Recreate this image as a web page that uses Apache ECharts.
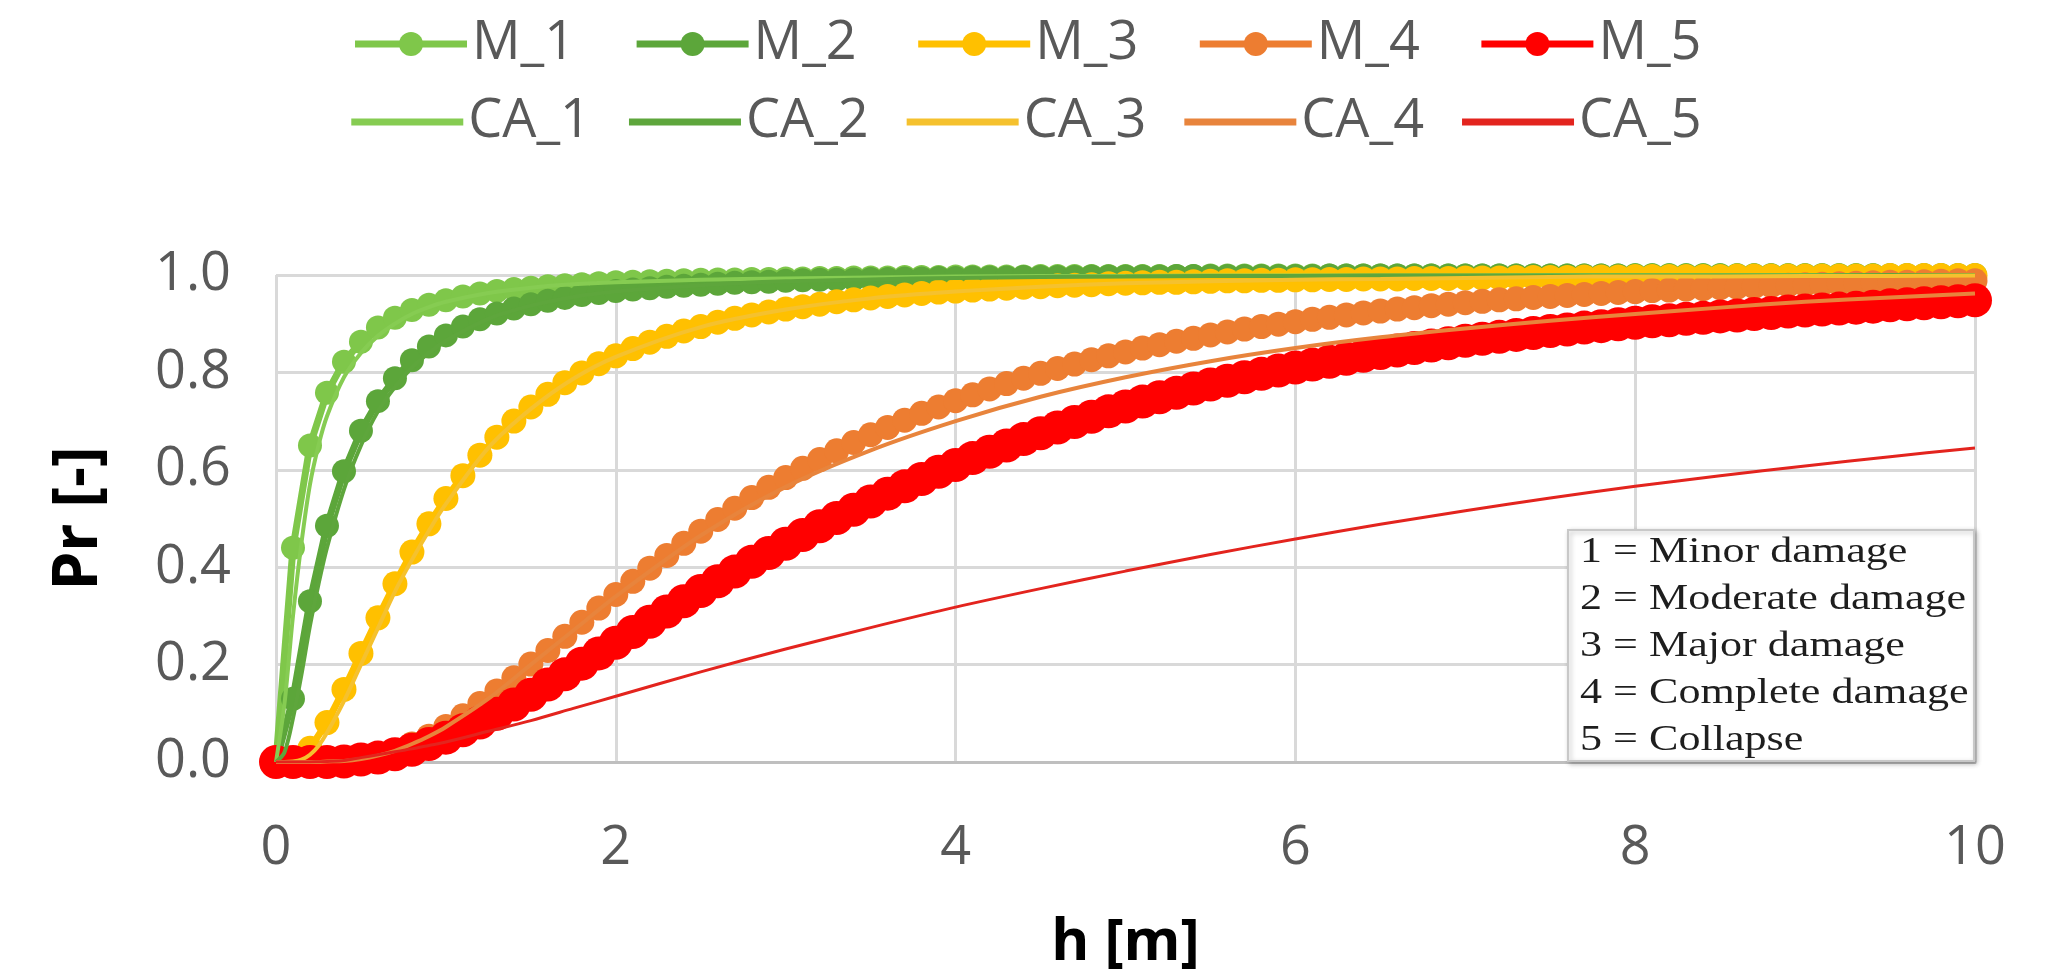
<!DOCTYPE html>
<html>
<head>
<meta charset="utf-8">
<title>Fragility curves M / CA</title>
<script src="https://cdn.jsdelivr.net/npm/echarts@6/dist/echarts.min.js"></script>
<style>
  html, body { margin: 0; padding: 0; background: #fff; }
  #main { width: 2053px; height: 980px; }
</style>
</head>
<body>
<div id="main"></div>
<script>
// M_* curves: one marker every 0.1 m, from 0 to 10 m
var hStep = 0.1;

var m1 = [0, 0.44, 0.65, 0.758, 0.822, 0.863, 0.892, 0.912, 0.928, 0.939,
  0.948, 0.956, 0.962, 0.967, 0.971, 0.974, 0.977, 0.979, 0.981, 0.983,
  0.985, 0.986, 0.987, 0.988, 0.989, 0.990, 0.991, 0.991, 0.992, 0.992,
  0.993, 0.993, 0.994, 0.994, 0.995, 0.995, 0.995, 0.996, 0.996, 0.996,
  0.997, 0.997, 0.997, 0.997, 0.997, 0.998, 0.998, 0.998, 0.998, 0.998,
  0.998, 0.998, 0.998, 0.998, 0.998, 0.999, 0.999, 0.999, 0.999, 0.999,
  0.999, 0.999, 0.999, 0.999, 0.999, 0.999, 0.999, 0.999, 0.999, 0.999,
  0.999, 0.999, 0.999, 0.999, 0.999, 0.999, 0.999, 0.999, 0.999, 0.999,
  1, 1, 1, 1, 1, 1, 1, 1, 1, 1,
  1, 1, 1, 1, 1, 1, 1, 1, 1, 1,
  1];
var m2 = [0, 0.130, 0.330, 0.485, 0.597, 0.680, 0.741, 0.788, 0.825, 0.853,
  0.876, 0.894, 0.909, 0.921, 0.931, 0.940, 0.947, 0.953, 0.959, 0.963,
  0.967, 0.970, 0.973, 0.976, 0.978, 0.980, 0.982, 0.984, 0.985, 0.986,
  0.988, 0.989, 0.990, 0.990, 0.991, 0.992, 0.992, 0.993, 0.993, 0.994,
  0.994, 0.995, 0.995, 0.995, 0.996, 0.996, 0.996, 0.996, 0.997, 0.997,
  0.997, 0.997, 0.997, 0.998, 0.998, 0.998, 0.998, 0.998, 0.998, 0.998,
  0.998, 0.998, 0.999, 0.999, 0.999, 0.999, 0.999, 0.999, 0.999, 0.999,
  0.999, 0.999, 0.999, 0.999, 0.999, 0.999, 0.999, 0.999, 0.999, 0.999,
  0.999, 0.999, 0.999, 0.999, 0.999, 0.999, 0.999, 0.999, 0.999, 0.999,
  0.999, 0.999, 0.999, 0.999, 0.999, 0.999, 0.999, 0.999, 0.999, 0.999,
  0.999];
var m3 = [0, 0.003, 0.028, 0.081, 0.149, 0.223, 0.296, 0.366, 0.431, 0.489,
  0.541, 0.588, 0.630, 0.667, 0.700, 0.729, 0.755, 0.779, 0.799, 0.818,
  0.834, 0.849, 0.862, 0.874, 0.885, 0.894, 0.903, 0.911, 0.918, 0.924,
  0.930, 0.935, 0.940, 0.945, 0.949, 0.953, 0.956, 0.959, 0.962, 0.965,
  0.967, 0.969, 0.971, 0.973, 0.975, 0.976, 0.978, 0.979, 0.980, 0.982,
  0.983, 0.984, 0.985, 0.985, 0.986, 0.987, 0.988, 0.988, 0.989, 0.989,
  0.990, 0.990, 0.991, 0.991, 0.992, 0.992, 0.992, 0.993, 0.993, 0.993,
  0.994, 0.994, 0.994, 0.995, 0.995, 0.995, 0.995, 0.996, 0.996, 0.996,
  0.997, 0.997, 0.997, 0.997, 0.997, 0.997, 0.998, 0.998, 0.998, 0.998,
  0.998, 0.998, 0.998, 0.998, 0.998, 0.999, 0.999, 0.999, 0.999, 0.999,
  0.999];
var m4 = [0, 0, 0, 0, 0.001, 0.006, 0.013, 0.023, 0.037, 0.053,
  0.073, 0.095, 0.120, 0.146, 0.173, 0.201, 0.229, 0.258, 0.287, 0.316,
  0.344, 0.371, 0.398, 0.424, 0.449, 0.474, 0.498, 0.521, 0.543, 0.564,
  0.584, 0.603, 0.621, 0.639, 0.656, 0.672, 0.687, 0.702, 0.716, 0.729,
  0.742, 0.754, 0.766, 0.777, 0.788, 0.798, 0.808, 0.817, 0.826, 0.834,
  0.842, 0.850, 0.857, 0.864, 0.870, 0.877, 0.883, 0.889, 0.894, 0.899,
  0.904, 0.909, 0.913, 0.918, 0.922, 0.926, 0.930, 0.933, 0.937, 0.940,
  0.943, 0.946, 0.949, 0.951, 0.954, 0.956, 0.958, 0.960, 0.962, 0.964,
  0.966, 0.968, 0.969, 0.971, 0.972, 0.974, 0.975, 0.976, 0.978, 0.979,
  0.980, 0.981, 0.982, 0.983, 0.984, 0.985, 0.985, 0.986, 0.987, 0.988,
  0.988];
var m5 = [0, 0, 0, 0, 0.001, 0.005, 0.009, 0.016, 0.025, 0.037,
  0.050, 0.065, 0.081, 0.099, 0.118, 0.138, 0.159, 0.180, 0.202, 0.223,
  0.245, 0.267, 0.288, 0.309, 0.330, 0.351, 0.371, 0.391, 0.411, 0.429,
  0.448, 0.466, 0.484, 0.501, 0.518, 0.535, 0.551, 0.566, 0.581, 0.596,
  0.610, 0.624, 0.637, 0.650, 0.663, 0.675, 0.687, 0.698, 0.709, 0.720,
  0.730, 0.740, 0.749, 0.758, 0.767, 0.775, 0.783, 0.790, 0.797, 0.804,
  0.810, 0.816, 0.822, 0.828, 0.834, 0.840, 0.845, 0.850, 0.855, 0.860,
  0.865, 0.869, 0.873, 0.877, 0.881, 0.885, 0.888, 0.892, 0.895, 0.899,
  0.902, 0.905, 0.907, 0.910, 0.912, 0.915, 0.917, 0.920, 0.922, 0.925,
  0.927, 0.929, 0.931, 0.933, 0.935, 0.938, 0.940, 0.942, 0.944, 0.946,
  0.948];

// CA_* curves: plain lines, read at these heights
var caH = [0, 0.05, 0.1, 0.15, 0.2, 0.25, 0.3, 0.4, 0.5, 0.6, 0.7, 0.8, 0.9, 1,
  1.25, 1.5, 1.75, 2,
  2.5, 3, 3.5, 4, 4.5, 5, 5.5, 6, 6.5, 7, 7.5, 8, 8.5, 9, 9.5, 10];
var ca1 = [0, 0.12, 0.30, 0.45, 0.57, 0.65, 0.71, 0.79, 0.84, 0.875, 0.900, 0.92, 0.934, 0.945,
  0.963, 0.974, 0.981, 0.985,
  0.99, 0.993, 0.995, 0.997, 0.998, 0.998, 0.999, 0.999, 0.999, 0.999, 1, 1, 1, 1, 1, 1];
var ca2 = [0, 0.02, 0.09, 0.18, 0.28, 0.365, 0.44, 0.56, 0.65, 0.72, 0.77, 0.81, 0.84, 0.865,
  0.91, 0.937, 0.955, 0.966,
  0.979, 0.987, 0.991, 0.994, 0.996, 0.997, 0.998, 0.998, 0.999, 0.999, 0.999, 0.999, 0.999, 0.999, 1, 1];
var ca3 = [0, 0, 0.001, 0.005, 0.015, 0.033, 0.06, 0.125, 0.2, 0.275, 0.35, 0.415, 0.475, 0.53,
  0.645, 0.725, 0.787, 0.832,
  0.893, 0.929, 0.952, 0.966, 0.976, 0.983, 0.987, 0.99, 0.992, 0.994, 0.996, 0.997, 0.997, 0.998, 0.998, 0.999];
var ca4 = [0, 0, 0, 0, 0, 0, 0.001, 0.002, 0.006, 0.013, 0.023, 0.037, 0.053, 0.072,
  0.13, 0.2, 0.27, 0.34,
  0.465, 0.565, 0.64, 0.70, 0.75, 0.79, 0.823, 0.85, 0.872, 0.89, 0.906, 0.92, 0.933, 0.945, 0.954, 0.962];
var ca5 = [0, 0, 0, 0, 0, 0.0005, 0.001, 0.003, 0.009, 0.015, 0.021, 0.027, 0.034, 0.041,
  0.063, 0.085, 0.11, 0.135,
  0.185, 0.232, 0.276, 0.318, 0.356, 0.392, 0.426, 0.458, 0.488, 0.516, 0.542, 0.566, 0.588, 0.608, 0.627, 0.645];

var mNames = ['M_1', 'M_2', 'M_3', 'M_4', 'M_5'];
var caNames = ['CA_1', 'CA_2', 'CA_3', 'CA_4', 'CA_5'];
var damageNotes = ['1 = Minor damage', '2 = Moderate damage', '3 = Major damage',
  '4 = Complete damage', '5 = Collapse'];

var FONT = '"Open Sans", "Noto Sans", sans-serif';

function pairs(xs, ys) {
  return ys.map(function (y, i) { return [xs[i], y]; });
}
var mH = m1.map(function (v, i) { return +(i * hStep).toFixed(1); });

function mSeries(name, ys, color, size) {
  return {
    name: name, type: 'line', data: pairs(mH, ys),
    symbol: 'circle', symbolSize: size, showSymbol: true, showAllSymbol: true,
    lineStyle: { color: color, width: 7 },
    itemStyle: { color: color },
    z: 2
  };
}
function caSeries(name, ys, color, width) {
  return {
    name: name, type: 'line', data: pairs(caH, ys),
    symbol: 'none', smooth: 0.3,
    lineStyle: { color: color, width: width },
    itemStyle: { color: color },
    z: 3
  };
}

var notes = [{
  type: 'rect', z: 20,
  shape: { x: 1568, y: 530, width: 406, height: 231 },
  style: { fill: '#fff', stroke: '#c8c8c8', lineWidth: 2,
    shadowBlur: 5, shadowOffsetX: 2, shadowOffsetY: 2, shadowColor: 'rgba(0,0,0,0.25)' }
}];
damageNotes.forEach(function (t, i) {
  notes.push({
    type: 'text', z: 21, x: 1580, y: 553 + i * 47, scaleX: 1.26,
    style: { text: t, fontSize: 35, fontFamily: '"Liberation Serif", serif',
      fill: '#1e1e1e', align: 'left', verticalAlign: 'middle' }
  });
});

var myChart = echarts.init(document.getElementById('main'));

var option = {
  animation: false,
  backgroundColor: '#fff',
  legend: [{
    data: mNames, top: 12, left: 'center',
    itemWidth: 112, itemHeight: 30, itemGap: 58,
    lineStyle: { width: 7 },
    textStyle: { fontSize: 54, color: '#595959', fontFamily: FONT }
  }, {
    data: caNames, top: 90, left: 'center',
    icon: 'rect', itemWidth: 112, itemHeight: 7, itemGap: 38,
    textStyle: { fontSize: 54, color: '#595959', fontFamily: FONT }
  }],
  grid: { left: 276, right: 78, top: 275, bottom: 218 },
  xAxis: {
    type: 'value', min: 0, max: 10, interval: 2,
    name: 'h [m]', nameLocation: 'middle', nameGap: 152,
    nameTextStyle: { fontSize: 58, fontWeight: 'bold', color: '#000', fontFamily: FONT },
    axisLine: { show: true, lineStyle: { color: '#bfbfbf', width: 3 } },
    axisTick: { show: false },
    axisLabel: { fontSize: 54, color: '#595959', margin: 60, fontFamily: FONT },
    splitLine: { show: true, lineStyle: { color: '#d9d9d9', width: 3 } }
  },
  yAxis: {
    type: 'value', min: 0, max: 1, interval: 0.2,
    name: 'Pr [-]', nameLocation: 'middle', nameGap: 166,
    nameTextStyle: { fontSize: 62, fontWeight: 'bold', color: '#000', fontFamily: FONT },
    axisLine: { show: false },
    axisTick: { show: false },
    axisLabel: { fontSize: 54, color: '#595959', margin: 45, fontFamily: FONT,
      formatter: function (v) { return v.toFixed(1); } },
    splitLine: { show: true, lineStyle: { color: '#d9d9d9', width: 3 } }
  },
  graphic: notes,
  series: [
    mSeries('M_1', m1, '#7fc74a', 24),
    mSeries('M_2', m2, '#5ca63a', 24),
    mSeries('M_3', m3, '#ffc000', 25),
    mSeries('M_4', m4, '#ed7d31', 25),
    mSeries('M_5', m5, '#ff0000', 34),
    caSeries('CA_1', ca1, '#86cc52', 4),
    caSeries('CA_2', ca2, '#5ea63c', 4),
    caSeries('CA_3', ca3, '#f5c12e', 4),
    caSeries('CA_4', ca4, '#e8843c', 4),
    caSeries('CA_5', ca5, '#e3241e', 3)
  ]
};
myChart.setOption(option);
</script>
</body>
</html>
